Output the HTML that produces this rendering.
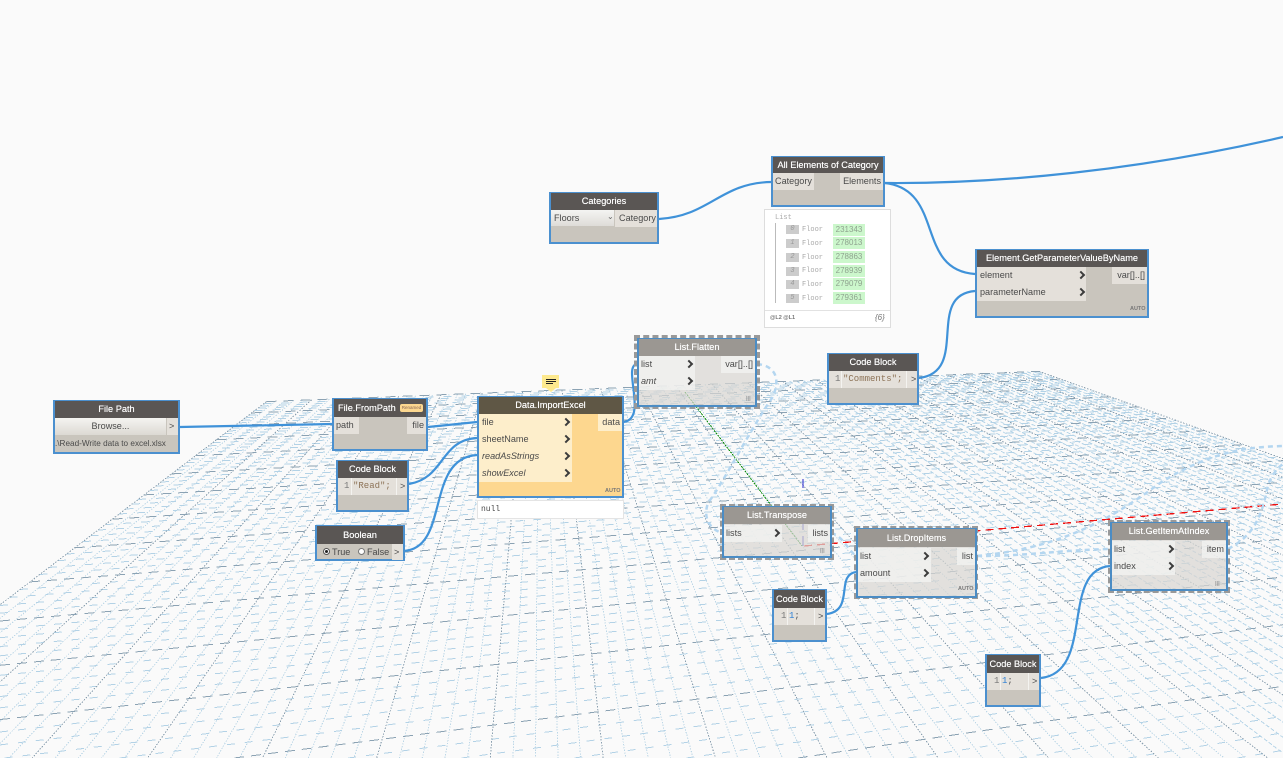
<!DOCTYPE html>
<html><head><meta charset="utf-8"><style>
html,body{margin:0;padding:0;background:#fafafa;width:1283px;height:758px;overflow:hidden}
body{position:relative;font-family:"Liberation Sans",sans-serif;font-size:9.1px;color:#4a4a4a}
svg{position:absolute;left:0;top:0}
.n,.h,.p,.f,.o,.d,.c,.t{position:absolute;box-sizing:border-box}
.n{background:#c9c5bd;border:2px solid #4b90cf}
.n.z{background:rgba(216,214,209,.72);border-color:#4b8cc4}
.o{border:3px dashed #999}
.h{background:#5a5654;color:#fff;text-align:center;line-height:18px;height:18px;font-size:9.2px;white-space:nowrap;text-shadow:0 0 .4px #fff}
.z2{background:#9b9792}
.p{background:#e4e0da;line-height:17px;height:17px;padding:0 2px;white-space:pre}
.y{background:#fdeecb}
.w{background:rgba(245,245,243,.7)}
.c{width:6px;height:6px;border:solid #3c3c3c;border-width:2px 2px 0 0;transform:rotate(45deg)}
.t{white-space:pre}
.m{font-family:"Liberation Mono",monospace;font-size:9px}
.a{font-size:5.5px;font-weight:bold;color:#777}
.g{position:absolute;background:#ccf7cc;color:#8fa38f;font:8px/12px "Liberation Sans",sans-serif;width:32px;height:12px;text-align:center}
.i{position:absolute;background:#ccc;color:#999;font:italic 7px/9px "Liberation Mono",monospace;width:13px;height:9px;text-align:center}
.fl{position:absolute;color:#aaa;font:7px/10px "Liberation Mono",monospace}
.ln{color:#777;font-family:"Liberation Mono",monospace;font-size:9px;line-height:17px}
.gu{width:1px;height:17px;background:#f4f3f0}
</style></head><body>
<svg id="grid" width="1283" height="758" viewBox="0 0 1283 758"></svg>
<script>
(function(){
var V1=[540,193],V2=[4270,245];
function P(i){var w=2.3332e-4+5.4e-6*i,x=4270-1/w;return [x,546-.0868*(x-802)]}
function Q(j){var r=1/(5.2e-3-2.4e-4*j);return [540+r/1.347,193+r]}
function X(a,b,c,d){var A=b[1]-a[1],B=a[0]-b[0],C=A*a[0]+B*a[1],D=d[1]-c[1],E=c[0]-d[0],F=D*c[0]+E*c[1],G=A*E-D*B;return [(C*E-F*B)/G,(A*F-D*C)/G]}
function seg(a,b){
  var t0=0,t1=1,dx=b[0]-a[0],dy=b[1]-a[1],ps=[-dx,dx,-dy,dy],qs=[a[0],1283-a[0],a[1],758-a[1]];
  for(var k=0;k<4;k++){var p=ps[k],q=qs[k];
    if(p==0){if(q<0)return ''}
    else{var r=q/p;if(p<0){if(r>t1)return '';if(r>t0)t0=r}else{if(r<t0)return '';if(r<t1)t1=r}}}
  return 'M'+(a[0]+t0*dx).toFixed(1)+' '+(a[1]+t0*dy).toFixed(1)+'L'+(a[0]+t1*dx).toFixed(1)+' '+(a[1]+t1*dy).toFixed(1);
}
var um='',un='',us='',vm='',vn='',i,j,a,b,s,J=18;
for(i=0;i<=105;i++){a=X(V1,P(i/5),V2,Q(0));b=X(V1,P(i/5),V2,Q(J));s=seg(a,b);
  if(i%5==0)um+=s;else if(Math.abs((b[1]-a[1])/(b[0]-a[0]))<.8&&b[0]>a[0])us+=s;else un+=s}
for(j=0;j<=J*5;j++){a=X(V2,Q(j/5),V1,P(0));b=X(V2,Q(j/5),V1,P(21));s=seg(a,b);if(j%5==0)vm+=s;else vn+=s}
document.getElementById('grid').innerHTML=
'<g fill="none" shape-rendering="crispEdges">'+
'<path d="'+un+'" stroke="#bcd7e7" stroke-dasharray="1.4 1.4"/>'+
'<path d="'+us+'" stroke="#b7d5e8" stroke-dasharray="4 2"/>'+
'<path d="'+vn+'" stroke="#b3d2e6" stroke-dasharray="8 10"/>'+
'<path d="'+um+'" stroke="#8ba0b0" stroke-dasharray="1.5 1.5"/>'+
'<path d="'+vm+'" stroke="#8ba2b3" stroke-dasharray="10 7"/>'+
'<path d="M685 392L802 546" stroke="#0a8a0a" stroke-dasharray="2 1"/>'+
'<path d="M803 479V488M803 505V530M803 536V546" stroke="#2222cc"/>'+
'<path d="M804 546L1283 504" stroke="#ee1111" stroke-width="1.3" stroke-dasharray="8 5"/>'+
'</g>';
})();
</script>
<svg width="1283" height="758" viewBox="0 0 1283 758" fill="none">
<g stroke="#b4d6f0" stroke-width="2.5" stroke-dasharray="5 4">
<path d="M757 364C778 366 780 382 772 398C750 430 725 480 708 503C702 520 712 530 722 533"/>
<path d="M831 533C842 535 848 550 856 556"/>
<path d="M977 556C1030 556 1060 550 1110 549"/>
<path d="M977 556C1060 548 1110 520 1160 483C1210 452 1245 447 1283 446"/>
<path d="M1228 549C1255 535 1262 515 1268 485C1272 475 1277 468 1283 464"/>
</g>
<g stroke="#3f92d9" stroke-width="2.2">
<path d="M180 427L332 424"/>
<path d="M428 427L477 422"/>
<path d="M409 484C445 478 440 440 477 438"/>
<path d="M404 551C450 548 425 458 477 455"/>
<path d="M624 422C648 418 622 366 637 364"/>
<path d="M659 219C710 216 720 183 771 182"/>
<path d="M885 183C1000 184 1140 170 1283 137"/>
<path d="M885 183C945 190 915 270 975 274"/>
<path d="M919 378C970 372 925 295 975 291"/>
<path d="M827 614C855 610 835 575 856 572"/>
<path d="M1041 678C1095 672 1060 570 1110 566"/>
</g>
</svg>

<!-- File Path -->
<div class="n" style="left:53px;top:400px;width:127px;height:54px"></div>
<div class="h" style="left:55px;top:401px;width:123px;height:17px;line-height:17px">File Path</div>
<div class="t" style="left:55px;top:418px;width:111px;height:17px;line-height:17px;text-align:center;background:linear-gradient(#f5f4f1,#dcd9d3)">Browse...</div>
<div class="p" style="left:167px;top:418px;width:11px">&gt;</div>
<div class="t" style="left:55px;top:437px;line-height:14px;font-size:8.2px">.\Read-Write data to excel.xlsx</div>

<!-- File.FromPath -->
<div class="n" style="left:332px;top:398px;width:96px;height:53px"></div>
<div class="h" style="left:334px;top:399px;width:92px;text-align:left;padding-left:4px">File.FromPath</div>
<div class="t" style="left:400px;top:404px;width:23px;height:8px;background:#fcd78f;border-radius:2px;font-size:4.5px;line-height:8px;text-align:center;color:#865">Renamed</div>
<div class="p" style="left:334px;top:417px;width:25px">path</div>
<div class="p" style="left:407px;top:417px;width:19px;text-align:right">file</div>

<!-- Code Block Read -->
<div class="n" style="left:336px;top:460px;width:73px;height:52px"></div>
<div class="h" style="left:338px;top:461px;width:69px;height:17px;line-height:17px">Code Block</div>
<div class="p" style="left:338px;top:478px;width:69px"></div>
<div class="t ln" style="left:344px;top:478px">1</div><div class="t gu" style="left:351px;top:478px"></div>
<div class="t m" style="left:353px;top:478px;line-height:17px;color:#8d7357">"Read";</div>
<div class="t gu" style="left:396px;top:478px"></div>
<div class="t" style="left:400px;top:478px;line-height:17px">&gt;</div>

<!-- Boolean -->
<div class="n" style="left:315px;top:525px;width:90px;height:36px"></div>
<div class="h" style="left:317px;top:526px;width:86px">Boolean</div>
<div class="t" style="left:323px;top:548px;width:7px;height:7px;border-radius:50%;background:#fff;border:1px solid #555"><div class="t" style="left:1px;top:1px;width:3px;height:3px;border-radius:50%;background:#222"></div></div>
<div class="t" style="left:332px;top:545px;line-height:14px">True</div>
<div class="t" style="left:358px;top:548px;width:7px;height:7px;border-radius:50%;background:#fff;border:1px solid #777"></div>
<div class="t" style="left:367px;top:545px;line-height:14px">False</div>
<div class="p" style="left:392px;top:544px;width:11px;height:16px;line-height:16px">&gt;</div>

<!-- Data.ImportExcel -->
<div class="n" style="left:477px;top:396px;width:147px;height:102px;background:#fdd78f"></div>
<div class="h" style="left:479px;top:397px;width:143px;background:#5f5745;height:17px;line-height:17px">Data.ImportExcel</div>
<div class="p y" style="left:479px;top:414px;width:93px;padding-left:3px">file</div>
<div class="p y" style="left:479px;top:431px;width:93px;padding-left:3px">sheetName</div>
<div class="p y" style="left:479px;top:448px;width:93px;padding-left:3px;font-style:italic">readAsStrings</div>
<div class="p y" style="left:479px;top:465px;width:93px;padding-left:3px;font-style:italic">showExcel</div>
<div class="c" style="left:563px;top:419px"></div><div class="c" style="left:563px;top:436px"></div><div class="c" style="left:563px;top:453px"></div><div class="c" style="left:563px;top:470px"></div>
<div class="p y" style="left:598px;top:414px;width:24px;text-align:right">data</div>
<div class="t a" style="left:605px;top:488px">AUTO</div>
<div class="t m" style="left:477px;top:500px;width:147px;height:19px;background:#fff;border:1px solid #e4e4e4;line-height:17px;padding-left:3px;font-size:8px">null</div>
<div class="t" style="left:542px;top:375px;width:17px;height:13px;background:#fde98e"></div>
<div class="t" style="left:546px;top:379px;width:10px;height:1px;background:#222"></div>
<div class="t" style="left:546px;top:381px;width:10px;height:1px;background:#222"></div>
<div class="t" style="left:546px;top:383px;width:7px;height:1px;background:#222"></div>
<div class="t" style="left:546px;top:388px;width:0;height:0;border-left:5px solid transparent;border-right:5px solid transparent;border-top:4px solid #fde98e"></div>

<!-- List.Flatten -->
<div class="o" style="left:634px;top:335px;width:126px;height:74px"></div>
<div class="n z" style="left:637px;top:338px;width:120px;height:69px"></div>
<div class="h z2" style="left:639px;top:339px;width:116px;height:17px;line-height:17px">List.Flatten</div>
<div class="p w" style="left:639px;top:356px;width:56px">list</div>
<div class="p w" style="left:639px;top:373px;width:56px;font-style:italic">amt</div>
<div class="c" style="left:686px;top:361px"></div><div class="c" style="left:686px;top:378px"></div>
<div class="p w" style="left:721px;top:356px;width:34px;text-align:right">var[]..[]</div>
<div class="t a" style="left:746px;top:396px;color:#999">|||</div>

<!-- Categories -->
<div class="n" style="left:549px;top:192px;width:110px;height:52px"></div>
<div class="h" style="left:551px;top:193px;width:106px;height:17px;line-height:17px">Categories</div>
<div class="t" style="left:551px;top:210px;width:63px;height:16px;line-height:16px;padding-left:3px;background:linear-gradient(#f4f4f2,#dedcd8)">Floors</div>
<div class="t" style="left:607px;top:211px;font-size:8px;line-height:12px;color:#666">⌄</div>
<div class="p" style="left:615px;top:210px;width:42px;padding-left:4px">Category</div>

<!-- All Elements -->
<div class="n" style="left:771px;top:156px;width:114px;height:51px"></div>
<div class="h" style="left:773px;top:157px;width:110px;height:16px;line-height:16px">All Elements of Category</div>
<div class="p" style="left:773px;top:173px;width:41px">Category</div>
<div class="p" style="left:840px;top:173px;width:43px;text-align:right">Elements</div>

<!-- Watch -->
<div class="t" style="left:764px;top:209px;width:127px;height:119px;background:#fff;border:1px solid #ddd"></div>
<div class="t" style="left:765px;top:310px;width:125px;height:1px;background:#e2e2e2"></div>
<div class="fl" style="left:775px;top:213px">List</div>
<div class="t" style="left:775px;top:223px;width:1px;height:80px;background:#bbb"></div>
<div class="i" style="left:786px;top:225px">0</div><div class="fl" style="left:802px;top:225px">Floor</div><div class="g" style="left:833px;top:224px">231343</div>
<div class="i" style="left:786px;top:239px">1</div><div class="fl" style="left:802px;top:239px">Floor</div><div class="g" style="left:833px;top:237px">278013</div>
<div class="i" style="left:786px;top:253px">2</div><div class="fl" style="left:802px;top:253px">Floor</div><div class="g" style="left:833px;top:251px">278863</div>
<div class="i" style="left:786px;top:267px">3</div><div class="fl" style="left:802px;top:266px">Floor</div><div class="g" style="left:833px;top:265px">278939</div>
<div class="i" style="left:786px;top:280px">4</div><div class="fl" style="left:802px;top:280px">Floor</div><div class="g" style="left:833px;top:278px">279079</div>
<div class="i" style="left:786px;top:294px">5</div><div class="fl" style="left:802px;top:294px">Floor</div><div class="g" style="left:833px;top:292px">279361</div>
<div class="t" style="left:770px;top:315px;font-size:5.5px;font-weight:bold;color:#777">@L2 @L1</div>
<div class="t" style="left:875px;top:313px;font-size:8px;font-style:italic;color:#777">{6}</div>

<!-- GetParameterValueByName -->
<div class="n" style="left:975px;top:249px;width:174px;height:69px"></div>
<div class="h" style="left:977px;top:250px;width:170px;height:17px;line-height:17px">Element.GetParameterValueByName</div>
<div class="p" style="left:977px;top:267px;width:109px;padding-left:3px">element</div>
<div class="p" style="left:977px;top:284px;width:109px;padding-left:3px">parameterName</div>
<div class="c" style="left:1078px;top:272px"></div><div class="c" style="left:1078px;top:289px"></div>
<div class="p" style="left:1112px;top:267px;width:35px;text-align:right">var[]..[]</div>
<div class="t a" style="left:1130px;top:306px">AUTO</div>

<!-- Code Block Comments -->
<div class="n" style="left:827px;top:353px;width:92px;height:52px"></div>
<div class="h" style="left:829px;top:354px;width:88px;height:17px;line-height:17px">Code Block</div>
<div class="p" style="left:829px;top:371px;width:88px"></div>
<div class="t ln" style="left:835px;top:371px">1</div><div class="t gu" style="left:841px;top:371px"></div>
<div class="t m" style="left:843px;top:371px;line-height:17px;color:#8d7357">"Comments";</div>
<div class="t gu" style="left:906px;top:371px"></div>
<div class="t" style="left:911px;top:371px;line-height:17px">&gt;</div>

<!-- List.Transpose -->
<div class="o" style="left:720px;top:504px;width:114px;height:56px"></div>
<div class="n z" style="left:722px;top:506px;width:110px;height:52px"></div>
<div class="h z2" style="left:724px;top:507px;width:106px;height:17px;line-height:17px">List.Transpose</div>
<div class="p w" style="left:724px;top:525px;width:58px">lists</div>
<div class="c" style="left:773px;top:530px"></div>
<div class="p w" style="left:808px;top:525px;width:22px;text-align:right">lists</div>
<div class="t a" style="left:820px;top:548px;color:#999">|||</div>

<!-- List.DropItems -->
<div class="o" style="left:854px;top:526px;width:124px;height:73px"></div>
<div class="n z" style="left:856px;top:528px;width:121px;height:70px"></div>
<div class="h z2" style="left:858px;top:529px;width:117px;height:18px">List.DropItems</div>
<div class="p w" style="left:858px;top:548px;width:73px">list</div>
<div class="p w" style="left:858px;top:565px;width:73px">amount</div>
<div class="c" style="left:922px;top:553px"></div><div class="c" style="left:922px;top:570px"></div>
<div class="p w" style="left:957px;top:548px;width:18px;text-align:right">list</div>
<div class="t a" style="left:958px;top:586px">AUTO</div>

<!-- Code Block 1 -->
<div class="n" style="left:772px;top:589px;width:55px;height:53px"></div>
<div class="h" style="left:774px;top:590px;width:51px">Code Block</div>
<div class="p" style="left:774px;top:608px;width:51px"></div>
<div class="t ln" style="left:781px;top:608px">1</div><div class="t gu" style="left:787px;top:608px"></div>
<div class="t m" style="left:789px;top:608px;line-height:17px;color:#2a7fd5">1<span style="color:#555">;</span></div>
<div class="t gu" style="left:814px;top:608px"></div>
<div class="t" style="left:818px;top:608px;line-height:17px">&gt;</div>

<!-- GetItemAtIndex -->
<div class="o" style="left:1108px;top:520px;width:122px;height:73px"></div>
<div class="n z" style="left:1110px;top:522px;width:118px;height:69px"></div>
<div class="h z2" style="left:1112px;top:523px;width:114px;height:17px;line-height:17px">List.GetItemAtIndex</div>
<div class="p w" style="left:1112px;top:541px;width:63px">list</div>
<div class="p w" style="left:1112px;top:558px;width:63px">index</div>
<div class="c" style="left:1167px;top:546px"></div><div class="c" style="left:1167px;top:563px"></div>
<div class="p w" style="left:1202px;top:541px;width:24px;text-align:right">item</div>
<div class="t a" style="left:1215px;top:581px;color:#999">|||</div>

<!-- Code Block 2 -->
<div class="n" style="left:985px;top:654px;width:56px;height:53px"></div>
<div class="h" style="left:987px;top:655px;width:52px">Code Block</div>
<div class="p" style="left:987px;top:673px;width:52px"></div>
<div class="t ln" style="left:994px;top:673px">1</div><div class="t gu" style="left:1000px;top:673px"></div>
<div class="t m" style="left:1002px;top:673px;line-height:17px;color:#2a7fd5">1<span style="color:#555">;</span></div>
<div class="t gu" style="left:1028px;top:673px"></div>
<div class="t" style="left:1032px;top:673px;line-height:17px">&gt;</div>
</body></html>
